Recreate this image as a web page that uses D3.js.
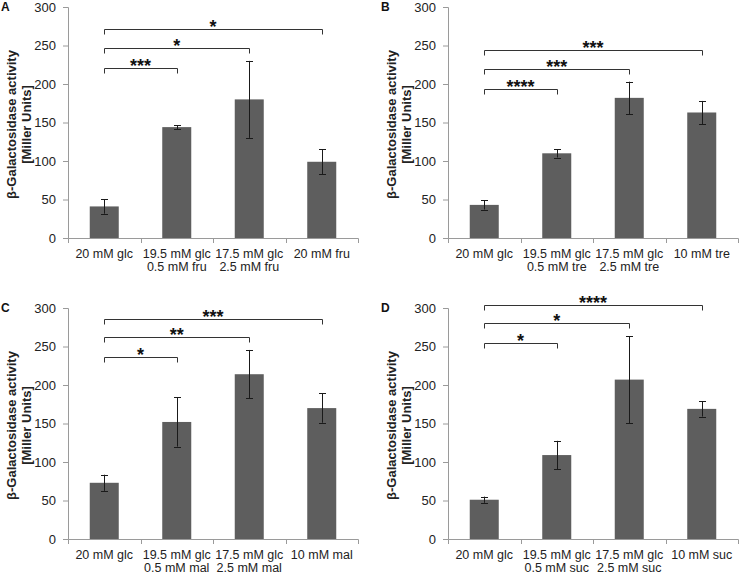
<!DOCTYPE html>
<html>
<head>
<meta charset="utf-8">
<script src="https://cdn.jsdelivr.net/npm/d3@7"></script>
<style>
  body { margin: 0; background: #fff; }
  svg text { font-family: "Liberation Sans", Arial, sans-serif; }
</style>
</head>
<body>
<div id="fig"></div>
<script>
// DATA
var catsA = [["20 mM glc"], ["19.5 mM glc", "0.5 mM fru"], ["17.5 mM glc", "2.5 mM fru"], ["20 mM fru"]];
var catsB = [["20 mM glc"], ["19.5 mM glc", "0.5 mM tre"], ["17.5 mM glc", "2.5 mM tre"], ["10 mM tre"]];
var catsC = [["20 mM glc"], ["19.5 mM glc", "0.5 mM mal"], ["17.5 mM glc", "2.5 mM mal"], ["10 mM mal"]];
var catsD = [["20 mM glc"], ["19.5 mM glc", "0.5 mM suc"], ["17.5 mM glc", "2.5 mM suc"], ["10 mM suc"]];

var meanA = [41, 144, 180, 99],   errA = [9.5, 2.5, 50, 16.5];
var meanB = [43, 110, 182, 163],  errB = [6, 5.5, 21, 15];
var meanC = [73, 152, 214, 170],  errC = [10.5, 32, 31.5, 19];
var meanD = [51, 109, 207, 169],  errD = [4, 18.5, 56.5, 10];

// significance brackets: first bar vs bar 2, 3, 4
var starsA = ["***", "*", "*"],     bracketA = [221, 247, 271];
var starsB = ["****", "***", "***"], bracketB = [193, 219, 244];
var starsC = ["*", "**", "***"],    bracketC = [236, 262, 286];
var starsD = ["*", "*", "****"],    bracketD = [254, 280, 304];

var yTicks = [0, 50, 100, 150, 200, 250, 300];

var svg = d3.select("#fig").append("svg")
  .attr("width", 740)
  .attr("height", 576);

var plotW = 290, plotH = 231;

function drawPanel(x0, y0, label, cats, means, errs, stars, bracketY) {
  var g = svg.append("g").attr("transform", `translate(${x0}, ${y0})`);

  var idx = d3.range(cats.length);
  var x = d3.scaleBand().domain(idx).range([0, plotW]).padding(0);
  var y = d3.scaleLinear().domain([0, 300]).range([plotH, 0]);
  var barW = x.bandwidth() * 0.4;
  var cx = function(i) { return x(i) + x.bandwidth() / 2; };

  // bars
  g.selectAll("rect.bar").data(idx).enter().append("rect")
    .attr("class", "bar")
    .attr("x", function(i) { return cx(i) - barW / 2; })
    .attr("width", barW)
    .attr("y", function(i) { return y(means[i]); })
    .attr("height", function(i) { return plotH - y(means[i]); })
    .attr("fill", "#5e5e5e");

  // axes
  var yAxis = g.append("g")
    .call(d3.axisLeft(y).tickValues(yTicks).tickSize(5).tickPadding(7));
  var xAxis = g.append("g")
    .attr("transform", `translate(0, ${plotH})`)
    .call(d3.axisBottom(x).tickSize(0).tickFormat(""));
  [yAxis, xAxis].forEach(function(a) {
    a.select(".domain").attr("stroke", "#9a9a9a");
    a.selectAll(".tick line").attr("stroke", "#9a9a9a");
  });
  yAxis.selectAll(".tick text").attr("fill", "#222").style("font-size", "13px");

  // x ticks at band boundaries
  g.selectAll("line.xt").data(d3.range(cats.length + 1)).enter().append("line")
    .attr("class", "xt")
    .attr("x1", function(i) { return Math.round(i * x.bandwidth()) + 0.5; })
    .attr("x2", function(i) { return Math.round(i * x.bandwidth()) + 0.5; })
    .attr("y1", plotH + 0.5).attr("y2", plotH + 5)
    .attr("stroke", "#9a9a9a");

  // category labels
  var lab = g.selectAll("text.cat").data(idx).enter().append("text")
    .attr("class", "cat")
    .attr("text-anchor", "middle")
    .attr("fill", "#222")
    .style("font-size", "12.5px")
    .attr("transform", function(i) { return `translate(${cx(i)}, ${plotH + 20})`; });
  lab.selectAll("tspan").data(function(i) { return cats[i]; }).enter().append("tspan")
    .attr("x", 0)
    .attr("y", function(d, k) { return k * 13; })
    .text(function(d) { return d; });

  // error bars
  var eb = g.selectAll("g.err").data(idx).enter().append("g").attr("class", "err")
    .attr("stroke", "#1a1a1a").attr("stroke-width", 1);
  eb.append("line")
    .attr("x1", function(i) { return Math.round(cx(i)) + 0.5; })
    .attr("x2", function(i) { return Math.round(cx(i)) + 0.5; })
    .attr("y1", function(i) { return y(means[i] + errs[i]); })
    .attr("y2", function(i) { return y(means[i] - errs[i]); });
  [1, -1].forEach(function(s) {
    eb.append("line")
      .attr("x1", function(i) { return Math.round(cx(i)) - 3; })
      .attr("x2", function(i) { return Math.round(cx(i)) + 4; })
      .attr("y1", function(i) { return Math.round(y(means[i] + s * errs[i])) + 0.5; })
      .attr("y2", function(i) { return Math.round(y(means[i] + s * errs[i])) + 0.5; });
  });

  // significance brackets
  var br = g.selectAll("g.br").data(stars).enter().append("g").attr("class", "br");
  br.append("path")
    .attr("fill", "none")
    .attr("stroke", "#333")
    .attr("d", function(d, k) {
      var yy = Math.round(y(bracketY[k])) + 0.5;
      var xa = Math.round(cx(0)) + 0.5, xb = Math.round(cx(k + 1)) + 0.5;
      return `M${xa},${yy + 5}V${yy}H${xb}V${yy + 5}`;
    });
  br.append("text")
    .attr("x", function(d, k) { return (cx(0) + cx(k + 1)) / 2; })
    .attr("y", function(d, k) { return y(bracketY[k]) + 4; })
    .attr("text-anchor", "middle")
    .attr("font-weight", "bold")
    .attr("fill", "#111")
    .style("font-size", "18px")
    .text(function(d) { return d; });

  // y title
  var cy = plotH / 2 + 2;
  g.append("text")
    .attr("transform", `translate(-57, ${cy}) rotate(-90)`)
    .attr("text-anchor", "middle")
    .attr("dominant-baseline", "central")
    .attr("font-weight", "bold")
    .attr("fill", "#222")
    .style("font-size", "13px")
    .text("\u03b2-Galactosidase activity");
  g.append("text")
    .attr("transform", `translate(-42, ${cy}) rotate(-90)`)
    .attr("text-anchor", "middle")
    .attr("dominant-baseline", "central")
    .attr("font-weight", "bold")
    .attr("fill", "#222")
    .style("font-size", "13px")
    .text("[Miller Units]");

  // panel letter
  g.append("text")
    .attr("x", -67).attr("y", 4)
    .attr("font-weight", "bold")
    .attr("fill", "#111")
    .style("font-size", "12px")
    .text(label);
}

drawPanel(68, 7, "A", catsA, meanA, errA, starsA, bracketA);
drawPanel(448, 7, "B", catsB, meanB, errB, starsB, bracketB);
drawPanel(68, 308, "C", catsC, meanC, errC, starsC, bracketC);
drawPanel(448, 308, "D", catsD, meanD, errD, starsD, bracketD);
</script>
</body>
</html>
